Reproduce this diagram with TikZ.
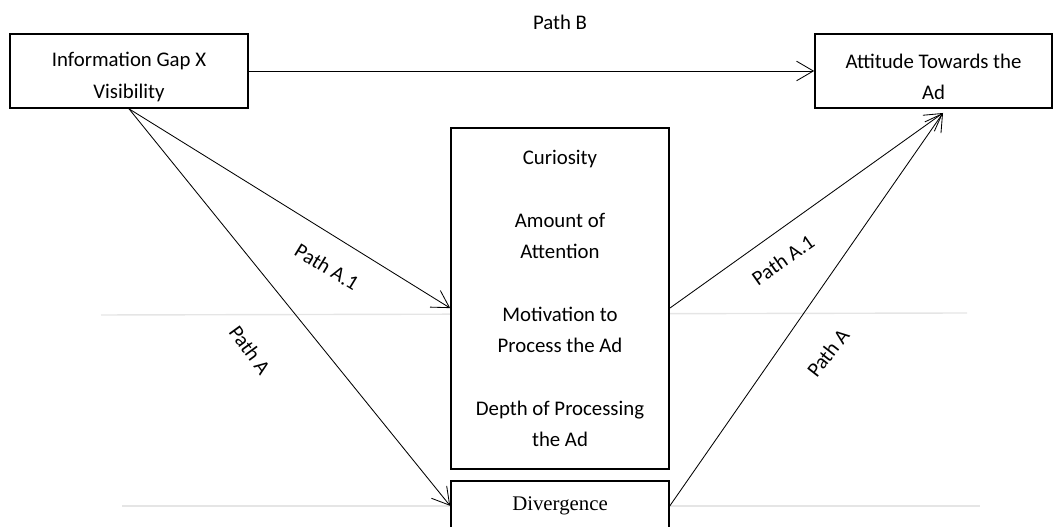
\documentclass[tikz,border=0pt]{standalone}
\usepackage{tikz}
\usepackage{xcolor}
\usepackage{fontspec}
\setmainfont{Carlito}
\newfontfamily\timesfont{Liberation Serif}
\usetikzlibrary{arrows.meta}
\usetikzlibrary{shapes}

\begin{document}
\begin{tikzpicture}[font=\fontsize{14.8}{22.3}\selectfont,
	box/.style={draw,fill=white,line width=1.2pt,inner sep=0pt,align=center},
	link/.style={line width=0.6pt,-{Straight Barb[length=4.2mm,width=4.9mm]}},
	pathlbl/.style={inner sep=1pt}]
	\useasboundingbox (0,0) rectangle (26.525,13.175);
	% faint rules behind the boxes
	\draw[gray!20,line width=1pt] (2.525,5.3) -- (24.175,5.35);
	\draw[gray!20,line width=1pt] (3.05,0.525) -- (24.5,0.525);

	\node[box,minimum width=5.95cm,minimum height=1.85cm,
		label={[yshift=-0.15cm,align=center]center:Information Gap X\\Visibility}] (gapvis) at (3.225,11.4) {};
	\node[box,minimum width=5.925cm,minimum height=1.85cm,
		label={[yshift=-0.15cm,align=center]center:Attitude Towards the\\Ad}] (attitude) at (23.3375,11.4) {};
	\node[box,minimum width=5.45cm,minimum height=8.525cm] (mediators) at (14,5.7125)
		{Curiosity\\[22.3pt]Amount of\\Attention\\[22.3pt]Motivation to\\Process the Ad\\[22.3pt]Depth of Processing\\the Ad};
	\node[box,minimum width=5.45cm,minimum height=1.25cm,anchor=north] (diverg) at (14,1.175) {\timesfont Divergence};
	\coordinate (tip) at (23.575,10.35);

		\draw[link] (gapvis.east) -- (attitude.west);
		\draw[link] (gapvis.south) -- (mediators.185);
		\draw[link] (gapvis.south) -- (diverg.west);
		\draw[link] (mediators.355) -- (tip);
		\draw[link] (diverg.east) -- (tip);

	\node[pathlbl] (pb) at (14,12.625) {Path B};
	\node[pathlbl,rotate=-31.4] (pa1l) at (8.175,6.5) {Path A.1};
	\node[pathlbl,rotate=-54] (pal) at (6.25,4.425) {Path A};
	\node[pathlbl,rotate=35] (pa1r) at (19.575,6.675) {Path A.1};
	\node[pathlbl,rotate=52] (par) at (20.7,4.35) {Path A};
	\end{tikzpicture}
\end{document}
